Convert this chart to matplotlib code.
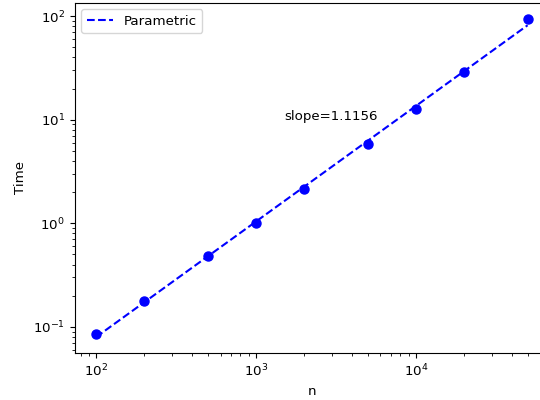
import matplotlib
matplotlib.use('Agg')
import matplotlib.pyplot as plt
import numpy as np

# problem sizes and measured times
n_values = [100, 200, 500, 1000, 2000, 5000, 10000, 20000, 50000]
times = [0.086, 0.177, 0.48, 1.0, 2.14, 5.87, 12.6, 28.8, 94.9]
slope_label = "slope=1.1156"

plt.rcParams['font.size'] = 9.6

# straight line fit in log-log space
coef = np.polyfit(np.log10(n_values), np.log10(times), 1)
fit = 10 ** np.polyval(coef, np.log10(n_values))

fig = plt.figure(figsize=(5.4, 4), dpi=100)
# axes run a little past the right edge, like the cropped original
ax = fig.add_axes([0.138, 0.1175, 0.879, 0.876])

ax.plot(n_values, fit, 'b--', label='Parametric')
ax.plot(n_values, times, 'bo', markersize=6.5)
ax.set_xscale('log')
ax.set_yscale('log')

ax.text(1500, 10, slope_label)
ax.set_xlabel('n')
ax.set_ylabel('Time')
ax.legend(loc='upper left')

fig.savefig('out.png', dpi=100)
plt.close(fig)
